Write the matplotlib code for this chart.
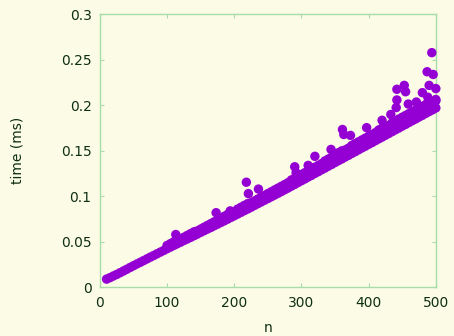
import numpy as np
import matplotlib
matplotlib.use('Agg')
import matplotlib.pyplot as plt

# main band, n = 10, 15, ..., 500
n_main = list(range(10, 505, 5))
t_main = [0.0090, 0.0106, 0.0124, 0.0141, 0.0160, 0.0179, 0.0198, 0.0218, 0.0237, 0.0256,
          0.0274, 0.0293, 0.0312, 0.0331, 0.0349, 0.0368, 0.0387, 0.0405, 0.0424, 0.0442,
          0.0460, 0.0478, 0.0496, 0.0514, 0.0531, 0.0549, 0.0567, 0.0585, 0.0604, 0.0622,
          0.0640, 0.0657, 0.0676, 0.0694, 0.0712, 0.0730, 0.0749, 0.0768, 0.0786, 0.0805,
          0.0824, 0.0843, 0.0861, 0.0880, 0.0900, 0.0919, 0.0938, 0.0957, 0.0976, 0.0995,
          0.1014, 0.1033, 0.1052, 0.1072, 0.1091, 0.1112, 0.1131, 0.1152, 0.1172, 0.1191,
          0.1212, 0.1231, 0.1252, 0.1271, 0.1292, 0.1311, 0.1332, 0.1351, 0.1372, 0.1392,
          0.1411, 0.1432, 0.1451, 0.1472, 0.1491, 0.1512, 0.1532, 0.1551, 0.1572, 0.1591,
          0.1612, 0.1632, 0.1651, 0.1672, 0.1691, 0.1712, 0.1732, 0.1751, 0.1772, 0.1791,
          0.1812, 0.1832, 0.1851, 0.1872, 0.1891, 0.1912, 0.1932, 0.1951, 0.1972]

# upper edge of the band, n = 100, 105, ..., 500
n_upper = list(range(100, 505, 5))
t_upper = [0.046, 0.048, 0.050, 0.052, 0.053, 0.055, 0.057, 0.059, 0.061, 0.062,
           0.064, 0.066, 0.068, 0.070, 0.072, 0.073, 0.075, 0.078, 0.080, 0.081,
           0.083, 0.086, 0.088, 0.090, 0.092, 0.093, 0.095, 0.097, 0.099, 0.101,
           0.103, 0.105, 0.107, 0.109, 0.111, 0.113, 0.115, 0.118, 0.120, 0.122,
           0.124, 0.126, 0.128, 0.130, 0.132, 0.134, 0.136, 0.139, 0.141, 0.143,
           0.145, 0.148, 0.150, 0.151, 0.153, 0.156, 0.158, 0.160, 0.162, 0.164,
           0.166, 0.168, 0.170, 0.173, 0.175, 0.176, 0.178, 0.181, 0.183, 0.185,
           0.187, 0.189, 0.191, 0.193, 0.195, 0.197, 0.199, 0.201, 0.203, 0.204,
           0.205]

# slow runs sticking out above the band
n_out = [113, 173, 194, 218, 221, 236, 290, 292, 310, 320, 344, 361, 363, 373,
         397, 420, 433, 441, 442, 442, 453, 455, 459, 471, 480, 488, 487, 490,
         494, 496, 500, 500]
t_out = [0.058, 0.082, 0.084, 0.1155, 0.103, 0.108, 0.1325, 0.126, 0.134, 0.144, 0.1516,
         0.1735, 0.168, 0.167, 0.1755, 0.1836, 0.190, 0.1976, 0.2177, 0.206, 0.222,
         0.215, 0.2015, 0.2037, 0.214, 0.209, 0.237, 0.222, 0.258, 0.234, 0.2185, 0.2065]

bg = '#fcfce6'
frame = '#a8dca8'
txt = '#0f2f14'
purple = '#9400d3'

fig = plt.figure(figsize=(4.54, 3.36), dpi=100, facecolor=bg)
ax = fig.add_axes([0.220, 0.145, 0.740, 0.812], facecolor=bg)

for xs, ys in [(n_main, t_main), (n_upper, t_upper), (n_out, t_out)]:
    ax.scatter(xs, ys, s=46, color=purple, edgecolors='none', clip_on=False, zorder=3)

ax.set_xlim(0, 500)
ax.set_ylim(0, 0.3)
ax.set_xticks([0, 100, 200, 300, 400, 500])
ax.set_yticks([0, 0.05, 0.1, 0.15, 0.2, 0.25, 0.3])
ax.set_yticklabels(['0', '0.05', '0.1', '0.15', '0.2', '0.25', '0.3'])
ax.tick_params(direction='in', length=3, color=frame, labelcolor=txt, labelsize=10,
               top=True, right=True, pad=6)
for sp in ax.spines.values():
    sp.set_color(frame)
    sp.set_linewidth(1)

ax.set_xlabel('n', color=txt, fontsize=10, labelpad=8)
ax.set_ylabel('time (ms)', color=txt, fontsize=10, labelpad=26)

fig.savefig('out.png', dpi=100, facecolor=bg)
